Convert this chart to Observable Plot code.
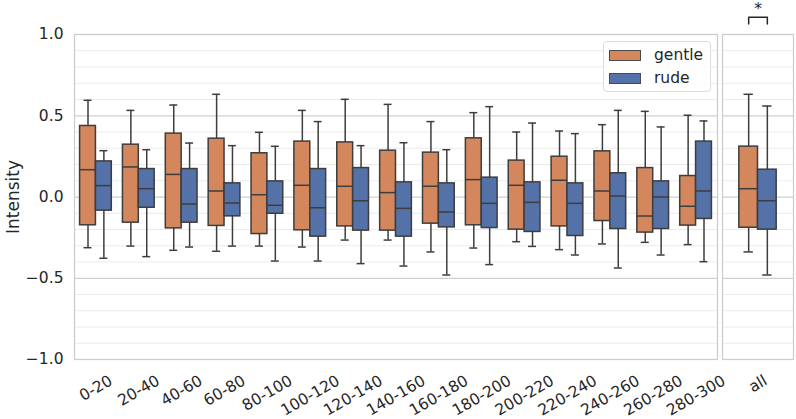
<!DOCTYPE html>
<html><head><meta charset="utf-8">
<script src="https://cdn.jsdelivr.net/npm/d3@7"></script>
<script src="https://cdn.jsdelivr.net/npm/@observablehq/plot@0.6"></script>
<style>
body{margin:0;background:#fff;}
#chart{position:relative;width:796px;height:419px;font-family:"DejaVu Sans",sans-serif;color:#262626;overflow:hidden;background:#fff}
#chart svg{position:absolute;top:0;overflow:visible;}
.legend{position:absolute;left:603px;top:41px;width:108px;height:51px;box-sizing:border-box;border:1px solid #dcdcdc;border-radius:4px;background:rgba(255,255,255,0.85);}
.legend .item{position:absolute;left:5px;height:12px;display:flex;align-items:center}
.legend .sw{width:32px;height:11px;box-sizing:border-box;border:1px solid #4a4a4a;}
.legend .lb{margin-left:13px;font-size:15.5px;line-height:15px}
</style></head>
<body><div id="chart"></div>
<script>
// ---- data (last entry = the "all" panel) ----
const categories = ["0-20","20-40","40-60","60-80","80-100","100-120","120-140","140-160","160-180","180-200","200-220","220-240","240-260","260-280","280-300","all"];
const hues = ["gentle","rude"];
const hueColors = ["#d4875c","#5471a8"];

const gentleLow    = [-0.312,-0.302,-0.328,-0.334,-0.302,-0.308,-0.265,-0.265,-0.338,-0.314,-0.275,-0.324,-0.289,-0.279,-0.293,-0.338];
const gentleQ1     = [-0.174,-0.158,-0.193,-0.178,-0.228,-0.205,-0.181,-0.207,-0.164,-0.174,-0.201,-0.181,-0.148,-0.219,-0.176,-0.189];
const gentleMedian = [ 0.168, 0.185, 0.139, 0.037, 0.014, 0.072, 0.066, 0.027, 0.066, 0.107, 0.072, 0.103, 0.037,-0.117,-0.057, 0.051];
const gentleQ3     = [ 0.437, 0.322, 0.390, 0.359, 0.269, 0.341, 0.336, 0.285, 0.273, 0.361, 0.224, 0.248, 0.281, 0.178, 0.129, 0.310];
const gentleHigh   = [ 0.595, 0.533, 0.566, 0.632, 0.398, 0.533, 0.601, 0.570, 0.464, 0.519, 0.400, 0.406, 0.445, 0.527, 0.503, 0.632];

const rudeLow      = [-0.377,-0.367,-0.308,-0.302,-0.394,-0.394,-0.410,-0.425,-0.480,-0.416,-0.304,-0.357,-0.437,-0.357,-0.398,-0.480];
const rudeQ1       = [-0.084,-0.066,-0.158,-0.119,-0.103,-0.244,-0.207,-0.244,-0.187,-0.191,-0.215,-0.240,-0.197,-0.197,-0.135,-0.201];
const rudeMedian   = [ 0.070, 0.051,-0.043,-0.037,-0.051,-0.066,-0.023,-0.070,-0.092,-0.039,-0.033,-0.039, 0.006, 0.000, 0.037,-0.023];
const rudeQ3       = [ 0.219, 0.172, 0.172, 0.084, 0.096, 0.172, 0.178, 0.090, 0.084, 0.119, 0.090, 0.084, 0.146, 0.096, 0.341, 0.168];
const rudeHigh     = [ 0.285, 0.291, 0.332, 0.316, 0.312, 0.464, 0.316, 0.334, 0.291, 0.556, 0.455, 0.390, 0.533, 0.431, 0.468, 0.560];

const yTicks = [-1, -0.5, 0, 0.5, 1];
const significance = "*";

// ---- build tables ----
const stats = {
  gentle: [gentleLow, gentleQ1, gentleMedian, gentleQ3, gentleHigh],
  rude: [rudeLow, rudeQ1, rudeMedian, rudeQ3, rudeHigh]
};
const nLeft = categories.length - 1;
const rows = [];
categories.forEach((cat, i) => {
  hues.forEach(h => {
    const [lo, q1, med, q3, hi] = stats[h].map(a => a[i]);
    rows.push({cat, idx: i, pos: i < nLeft ? i : 0, hue: h, lo, q1, med, q3, hi});
  });
});
const leftRows = rows.filter(d => d.idx < nLeft);
const rightRows = rows.filter(d => d.idx === nLeft);

const EDGE = "#3d3d3d";
const TEXT = "#262626";
const FONT = "DejaVu Sans, sans-serif";
const FS = 15.5;
const minorGrid = d3.range(-10, 11).filter(k => k % 5 !== 0).map(k => k / 10);
const majorGrid = [-0.5, 0, 0.5];

const measure = (() => {
  const ctx = document.createElement("canvas").getContext("2d");
  ctx.font = `${FS}px DejaVu Sans`;
  return t => ctx.measureText(t).width;
})();

function boxMarks(data, boxW) {
  const left = d => d.hue === "gentle" ? d.pos - boxW : d.pos;
  const right = d => d.hue === "gentle" ? d.pos : d.pos + boxW;
  const center = d => d.hue === "gentle" ? d.pos - boxW / 2 : d.pos + boxW / 2;
  const cap = boxW / 4;
  return [
    Plot.ruleX(data, {x: center, y1: "lo", y2: "hi", stroke: EDGE, strokeWidth: 1.5}),
    Plot.ruleY(data, {y: "hi", x1: d => center(d) - cap, x2: d => center(d) + cap, stroke: EDGE, strokeWidth: 1.5}),
    Plot.ruleY(data, {y: "lo", x1: d => center(d) - cap, x2: d => center(d) + cap, stroke: EDGE, strokeWidth: 1.5}),
    Plot.rect(data, {x1: left, x2: right, y1: "q1", y2: "q3", fill: "hue", stroke: EDGE, strokeWidth: 1.5}),
    Plot.ruleY(data, {y: "med", x1: left, x2: right, stroke: EDGE, strokeWidth: 1.5})
  ];
}

function gridMarks() {
  return [
    Plot.ruleY(minorGrid, {stroke: "#ebebeb", strokeWidth: 1}),
    Plot.ruleY(majorGrid, {stroke: "#cfcfcf", strokeWidth: 1.25})
  ];
}

function xLabels(labels, posOf) {
  // each rotated label is centred under its tick, top edge ~15px below the frame
  return labels.map((t, i) => Plot.text([t], {
    x: () => posOf(t, i), frameAnchor: "bottom", text: d => d,
    rotate: -30, textAnchor: "middle", lineAnchor: "middle",
    dy: 15 + (0.5 * measure(t) + 0.866 * 0.73 * FS) / 2,
    fontSize: FS, fill: TEXT
  }));
}

const common = {
  height: 419, marginTop: 34, marginBottom: 60,
  style: {fontFamily: FONT, fontSize: FS + "px", color: TEXT, background: "transparent", overflow: "visible"},
  color: {domain: hues, range: hueColors}
};

const leftLabels = categories.slice(0, nLeft);
const leftPlot = Plot.plot({
  ...common,
  width: 718, marginLeft: 74, marginRight: 1,
  x: {domain: [-0.5, nLeft - 0.5], axis: null},
  y: {domain: [-1, 1], ticks: yTicks, tickSize: 0, tickPadding: 11, tickFormat: d3.format(".1f"), label: null},
  marks: [
    ...gridMarks(),
    ...boxMarks(leftRows, 0.37),
    Plot.frame({stroke: "#cccccc", strokeWidth: 1.25}),
    ...xLabels(leftLabels, (t, i) => i),
    Plot.text(["Intensity"], {frameAnchor: "left", dx: -61, rotate: -90, textAnchor: "middle", lineAnchor: "middle", fontSize: 17, fill: TEXT})
  ]
});

const rightW = 0.263;
const bracketLow = 1.065, bracketHigh = 1.106;
const bracket = [
  {x: -rightW / 2, y: bracketLow}, {x: -rightW / 2, y: bracketHigh},
  {x: rightW / 2, y: bracketHigh}, {x: rightW / 2, y: bracketLow}
];
const rightPlot = Plot.plot({
  ...common,
  width: 84, marginLeft: 10, marginRight: 3,
  x: {domain: [-0.5, 0.5], axis: null},
  y: {domain: [-1, 1], axis: null},
  marks: [
    ...gridMarks(),
    ...boxMarks(rightRows, rightW),
    Plot.frame({stroke: "#cccccc", strokeWidth: 1.25}),
    ...xLabels([categories[nLeft]], () => 0),
    Plot.line(bracket, {x: "x", y: "y", stroke: TEXT, strokeWidth: 1.5}),
    Plot.text([significance], {x: 0, y: bracketHigh, lineAnchor: "bottom", dy: -3, fontSize: 15.5, fill: TEXT})
  ]
});

const chart = document.getElementById("chart");
leftPlot.style.left = "0px";
rightPlot.style.left = "712px";
chart.appendChild(leftPlot);
chart.appendChild(rightPlot);

// legend (inside the left panel, top-right)
const legend = document.createElement("div");
legend.className = "legend";
hues.forEach((h, i) => {
  const item = document.createElement("div");
  item.className = "item";
  item.style.top = (7 + i * 23) + "px";
  const sw = document.createElement("div");
  sw.className = "sw";
  sw.style.background = hueColors[i];
  const lb = document.createElement("span");
  lb.className = "lb";
  lb.textContent = h;
  item.appendChild(sw); item.appendChild(lb);
  legend.appendChild(item);
});
chart.appendChild(legend);
</script>
</body></html>
